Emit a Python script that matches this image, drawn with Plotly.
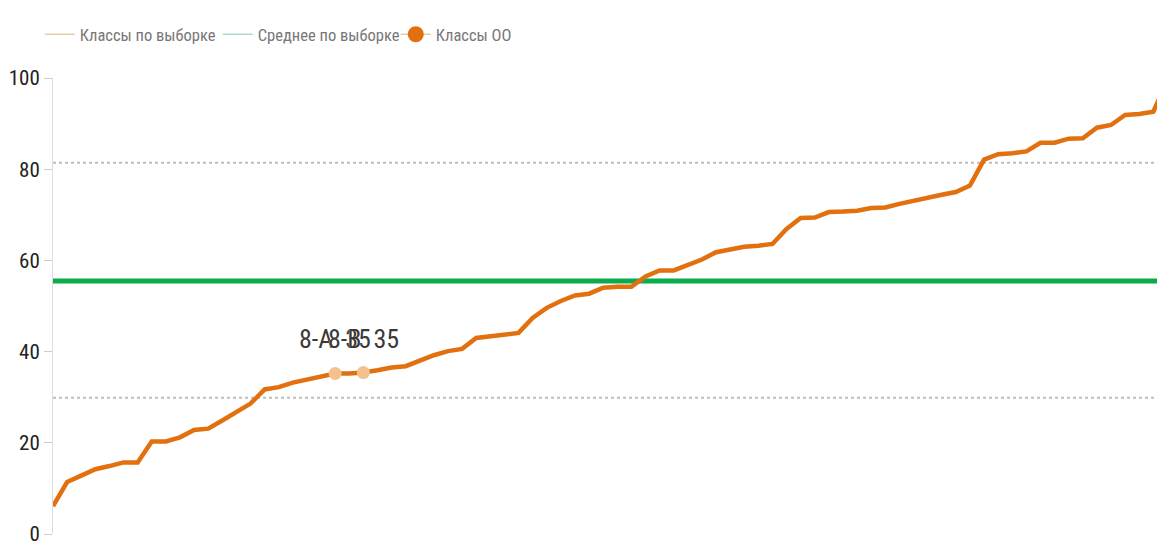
import plotly.graph_objects as go

# ---- data ----
class_values = [
    6.1, 11.4, 12.8, 14.2, 14.9, 15.7, 15.7, 20.3, 20.3, 21.2,
    22.8, 23.1, 24.9, 26.8, 28.6, 31.7, 32.2, 33.2, 33.9, 34.7,
    35.2, 35.2, 35.4, 35.9, 36.5, 36.8, 38.1, 39.2, 40.1, 40.6,
    43.0, 43.4, 43.8, 44.1, 47.4, 49.6, 51.1, 52.3, 52.7, 54.0,
    54.2, 54.2, 56.5, 57.8, 57.8, 59.1, 60.2, 61.8, 62.4, 63.0,
    63.2, 63.6, 66.9, 69.3, 69.4, 70.6, 70.7, 70.9, 71.5, 71.6,
    72.4, 73.1, 73.9, 74.4, 75.0, 76.4, 82.1, 83.3, 83.5, 83.9,
    85.8, 85.8, 86.7, 86.8, 89.1, 89.7, 91.9, 92.1, 92.6, 99.5,
]
class_index = list(range(len(class_values)))

school_classes = ["8-A", "8-B"]
school_index = [20, 22]
school_values = [35.2, 35.4]
school_labels = ["35", "35"]

sample_mean = 55.5
sample_bounds = [81.4, 29.9]

y_ticks = [0, 20, 40, 60, 80, 100]
x_view_max = 78.26

FONT = "Liberation Sans Narrow, Roboto Condensed, DejaVu Sans Condensed, Arial Narrow, sans-serif"
ORANGE = "#e2700f"

fig = go.Figure()

# dotted sample boundaries (legend entry "Классы по выборке")
for i, b in enumerate(sample_bounds):
    fig.add_trace(go.Scatter(
        x=[class_index[0], class_index[-1]], y=[b, b], mode="lines",
        line=dict(color="#bdbdbd", width=2, dash="dot"),
        name="Классы по выборке", legendgroup="s", showlegend=False,
        hoverinfo="skip"))
fig.add_trace(go.Scatter(
    x=[None], y=[None], mode="lines",
    line=dict(color="#e6cfa8", width=1.5),
    name="Классы по выборке", legendgroup="s"))

# sample mean
fig.add_trace(go.Scatter(
    x=[class_index[0], class_index[-1]], y=[sample_mean, sample_mean], mode="lines",
    line=dict(color="#0bab4b", width=5), name="Среднее по выборке",
    legendgroup="m", showlegend=False, hoverinfo="skip"))
fig.add_trace(go.Scatter(
    x=[None], y=[None], mode="lines",
    line=dict(color="#a9dccf", width=1.5),
    name="Среднее по выборке", legendgroup="m"))

# sorted class results line
fig.add_trace(go.Scatter(
    x=class_index, y=class_values, mode="lines",
    line=dict(color=ORANGE, width=4.5), showlegend=False,
    name="Классы", hoverinfo="skip"))

# school's classes
fig.add_trace(go.Scatter(
    x=school_index, y=school_values, mode="markers",
    marker=dict(color="#f4c08e", size=13, line=dict(width=0)),
    name="Классы ОО", showlegend=False, cliponaxis=False))
fig.add_trace(go.Scatter(
    x=[None], y=[None], mode="lines+markers",
    line=dict(color="#e6cfa8", width=1.5),
    marker=dict(color=ORANGE, size=17),
    name="Классы ОО"))

for cls, xi, yv, lab in zip(school_classes, school_index, school_values, school_labels):
    fig.add_annotation(
        x=xi, y=yv, text=f"{cls}\u00a0 {lab}", showarrow=False,
        yshift=34,
        font=dict(family=FONT, size=26, color="#3a3a3a",
                  shadow="0 0 1px rgba(255,255,255,0.9)"))

fig.update_layout(
    width=1157, height=542,
    margin=dict(l=53, r=0, t=78, b=8),
    paper_bgcolor="white", plot_bgcolor="white",
    font=dict(family=FONT, color="#333"),
    showlegend=True,
    legend=dict(
        orientation="h", x=-0.012, xanchor="left", xref="paper",
        y=1 - 17 / 542, yanchor="top", yref="container",
        font=dict(family=FONT, size=16.5, color="#777"),
        itemwidth=30, tracegroupgap=0, traceorder="normal",
        entrywidth=133, entrywidthmode="pixels",
        bgcolor="rgba(0,0,0,0)"),
    xaxis=dict(visible=False, range=[0, x_view_max], showgrid=False,
               zeroline=False, automargin=False),
    yaxis=dict(
        range=[0, 100], tickvals=y_ticks, showgrid=False, zeroline=False,
        showline=True, linecolor="#dddddd", linewidth=1,
        ticks="outside", ticklen=8, tickcolor="#cccccc",
        ticklabeloverflow="allow", automargin=False,
        tickfont=dict(family=FONT, size=21, color="#222")),
)

fig.write_html("out.html", config={"displayModeBar": False},
               post_script="document.body.style.margin='0';")
